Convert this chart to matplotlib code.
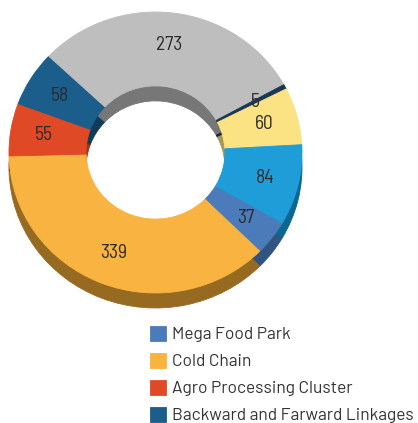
import matplotlib
matplotlib.use("Agg")
import matplotlib.pyplot as plt

labels = ['Mega Food Park', 'Cold Chain', 'Agro Processing Cluster',
          'Backward and Farward Linkages', 'Others', 'Other 2', 'Other 3', 'Other 4']
values = [37, 339, 55, 58, 273, 5, 60, 84]
top_colors = ['#4c7bb9', '#f9b340', '#e04926', '#1b5d8b', '#bebebe', '#1c3655', '#fbe384', '#1f9dd8']
side_colors = ['#30537f', '#976a22', '#9e3318', '#0f3b5d', '#777777', '#10263f', '#a8985a', '#0b6690']
legend_n = 4  # only the first four entries fit in the picture

fig = plt.figure(figsize=(4.18, 4.23), dpi=100)
W, H = 418, 423
cx, cy = 155.5, 152.5   # centre of top face, pixels
sx, sy = 146.5, 140.5   # outer radii, pixels
depth = 15 / sy
x0, x1, y0, y1 = -1.05, 1.05, -1.2, 1.05
ax = fig.add_axes([(cx + x0 * sx) / W, (H - (cy - y0 * sy)) / H,
                   (x1 - x0) * sx / W, (y1 - y0) * sy / H])

ring = dict(width=0.526, linewidth=0.6)
# fake 3d: same ring shifted down in darker colours gives the walls
ax.pie(values, colors=side_colors, startangle=-30, counterclock=False,
       center=(0, -depth), wedgeprops=ring)
wedges, texts = ax.pie(values, colors=top_colors, startangle=-30, counterclock=False,
                       labels=[str(v) for v in values], labeldistance=0.77,
                       wedgeprops=ring,
                       textprops=dict(color='#2b2b2b', fontsize=14,
                                      family=['Barlow Semi Condensed', 'Roboto', 'DejaVu Sans']))
for w in ax.patches:
    w.set_edgecolor(w.get_facecolor())
for t in texts:
    t.set_ha('center')
    t.set_va('center')

ax.set_aspect('auto')
ax.set_xlim(x0, x1)
ax.set_ylim(y0, y1)
ax.axis('off')

fig.legend(wedges[:legend_n], labels[:legend_n], loc='upper left',
           bbox_to_anchor=(150 / W, 1 - 326 / H), frameon=False,
           prop=dict(family=['Barlow', 'Roboto', 'DejaVu Sans'], size=12.5), labelcolor='#333333',
           handlelength=0.92, handleheight=0.92, handletextpad=0.34, labelspacing=0.62,
           borderaxespad=0, borderpad=0)

fig.savefig('out.png', dpi=100)
